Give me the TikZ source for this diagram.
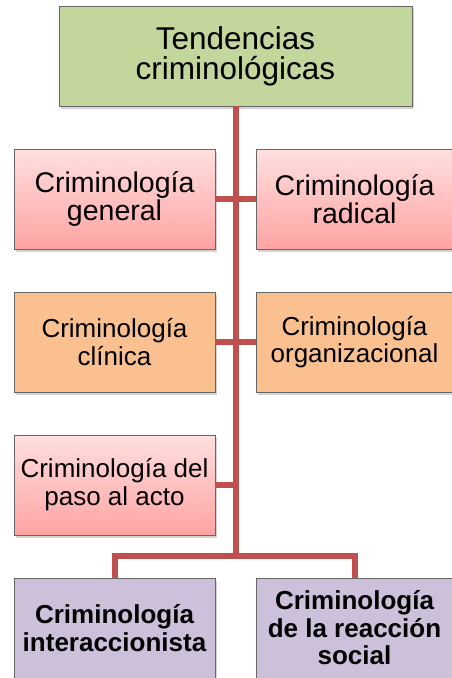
\documentclass[tikz,border=0pt]{standalone}
\usepackage{fontspec}
\setmainfont{Liberation Sans}
\usepackage{tikz}
\usetikzlibrary{shadows}

\definecolor{linkred}{HTML}{C0504D}
\definecolor{topgreen}{HTML}{C3D69B}
\definecolor{pinktop}{HTML}{FFDFDF}
\definecolor{pinkbottom}{HTML}{FFA3A3}
\definecolor{boxorange}{HTML}{FAC090}
\definecolor{boxpurple}{HTML}{CCC0DA}

\begin{document}
\begin{tikzpicture}[x=1pt, y=-1pt, node distance = 143pt,
        box/.style={draw=gray!80!black, line width=0.8pt, align=center,
            inner sep=0pt, minimum width=201pt, minimum height=100pt,
            drop shadow={shadow xshift=1.5pt, shadow yshift=-2.5pt,
            opacity=0.35}},
        topbox/.style={box, fill=topgreen, minimum width=353pt,
            font=\fontsize{31.5}{30}\selectfont},
        pinkbox/.style={box, top color=pinktop, bottom color=pinkbottom},
        orangebox/.style={box, fill=boxorange},
        purplebox/.style={box, fill=boxpurple,
            font=\bfseries\fontsize{26}{27.5}\selectfont},
        link/.style={draw=linkred, line width=6pt}]
        \useasboundingbox (0,0) rectangle (451,678);

        \node [topbox] (tend) at (235.5,56) {Tendencias\\criminológicas};

        \node [pinkbox, below of = tend, xshift = -121pt,
        font=\fontsize{28.5}{28}\selectfont] (general)
        {Criminología\\general};
        \node [pinkbox, right of = general, node distance = 240pt,
        minimum width=197pt, font=\fontsize{28.5}{28}\selectfont] (radical)
        {Criminología\\radical};

        \node [orangebox, below of = general,
        font=\fontsize{26}{27.5}\selectfont] (clinica)
        {Criminología\\clínica};
        \node [orangebox, right of = clinica, node distance = 240pt,
        minimum width=197pt, font=\fontsize{26}{27.5}\selectfont] (organiz)
        {Criminología\\organizacional};

        \node [pinkbox, below of = clinica,
        font=\fontsize{26}{28}\selectfont] (paso)
        {Criminología del\\paso al acto};

        \node [purplebox, below of = paso] (interacc)
        {Criminología\\interaccionista};
        \node [purplebox, right of = interacc, node distance = 240pt,
        minimum width=197pt] (reaccion)
        {Criminología\\de la reacción\\social};

        \coordinate [below of = tend, node distance = 500pt] (hub);

        \draw [link] (tend.south) -- (hub);
        \draw [link] (general) -- (radical);
        \draw [link] (clinica) -- (organiz);
        \draw [link] (paso) -- (paso -| hub);
        \draw [link] (interacc) |- (hub) -| (reaccion);
    \end{tikzpicture}
\end{document}
